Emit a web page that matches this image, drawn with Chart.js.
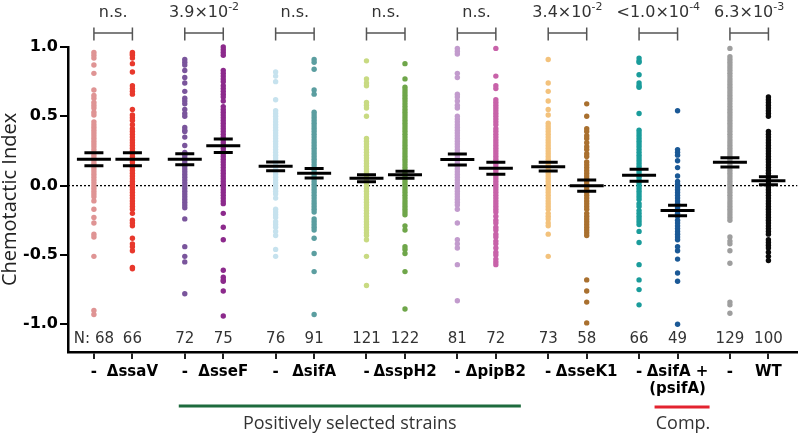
<!DOCTYPE html>
<html>
<head>
<meta charset="utf-8">
<script src="https://cdn.jsdelivr.net/npm/chart.js@4"></script>
<style>
  html, body { margin: 0; padding: 0; background: #fff; }
</style>
</head>
<body>
<canvas id="chartCanvas" width="800" height="434"></canvas>
<script>
// visible dots per group (overlapping dots left out)
const ctrlSsaV = [0.96, 0.94, 0.92, 0.87, 0.81, 0.69, 0.65, 0.63, 0.60, 0.58, 0.56, 0.53, 0.51, 0.46, 0.44, 0.42, 0.40, 0.38, 0.36, 0.34, 0.32, 0.30, 0.28, 0.26, 0.24, 0.22, 0.20, 0.18, 0.16, 0.14, 0.12, 0.10, 0.08, 0.06, 0.04, 0.02, 0.00, -0.02, -0.04, -0.06, -0.08, -0.11, -0.17, -0.23, -0.27, -0.35, -0.37, -0.51, -0.90, -0.93];
const dSsaV = [0.96, 0.95, 0.94, 0.92, 0.88, 0.82, 0.72, 0.70, 0.68, 0.66, 0.55, 0.51, 0.49, 0.47, 0.44, 0.41, 0.39, 0.37, 0.35, 0.33, 0.31, 0.29, 0.27, 0.25, 0.23, 0.21, 0.19, 0.17, 0.15, 0.13, 0.11, 0.09, 0.07, 0.05, 0.03, 0.01, -0.01, -0.03, -0.05, -0.07, -0.09, -0.11, -0.13, -0.15, -0.17, -0.20, -0.25, -0.27, -0.29, -0.38, -0.42, -0.44, -0.47, -0.59, -0.60];
const ctrlSseF = [0.91, 0.89, 0.87, 0.83, 0.78, 0.74, 0.68, 0.63, 0.61, 0.59, 0.55, 0.52, 0.50, 0.42, 0.40, 0.39, 0.35, 0.29, 0.24, 0.22, 0.20, 0.18, 0.16, 0.14, 0.12, 0.10, 0.08, 0.06, 0.04, 0.02, 0.00, -0.02, -0.04, -0.06, -0.08, -0.10, -0.12, -0.14, -0.16, -0.24, -0.44, -0.51, -0.55, -0.78];
const dSseF = [1.00, 0.98, 0.96, 0.94, 0.83, 0.81, 0.79, 0.77, 0.75, 0.72, 0.70, 0.68, 0.66, 0.64, 0.61, 0.57, 0.55, 0.53, 0.51, 0.49, 0.47, 0.45, 0.43, 0.41, 0.39, 0.37, 0.35, 0.33, 0.31, 0.29, 0.27, 0.25, 0.23, 0.21, 0.19, 0.17, 0.15, 0.13, 0.11, 0.09, 0.07, 0.05, 0.03, 0.01, -0.01, -0.03, -0.05, -0.07, -0.09, -0.11, -0.13, -0.20, -0.30, -0.39, -0.61, -0.66, -0.68, -0.69, -0.76, -0.94];
const ctrlSifA = [0.82, 0.79, 0.75, 0.62, 0.54, 0.52, 0.50, 0.48, 0.46, 0.44, 0.42, 0.40, 0.38, 0.36, 0.34, 0.32, 0.30, 0.28, 0.26, 0.24, 0.22, 0.20, 0.18, 0.16, 0.14, 0.12, 0.10, 0.08, 0.06, 0.04, 0.02, 0.00, -0.02, -0.04, -0.06, -0.09, -0.17, -0.19, -0.21, -0.23, -0.26, -0.28, -0.30, -0.33, -0.36, -0.46, -0.51];
const dSifA = [0.91, 0.89, 0.84, 0.69, 0.66, 0.53, 0.51, 0.49, 0.47, 0.45, 0.43, 0.41, 0.39, 0.37, 0.35, 0.33, 0.31, 0.29, 0.27, 0.25, 0.23, 0.21, 0.19, 0.17, 0.15, 0.13, 0.11, 0.09, 0.07, 0.05, 0.03, 0.01, -0.01, -0.03, -0.05, -0.07, -0.09, -0.11, -0.13, -0.15, -0.17, -0.19, -0.24, -0.26, -0.28, -0.30, -0.32, -0.38, -0.49, -0.62, -0.93];
const ctrlSspH2 = [0.90, 0.77, 0.74, 0.72, 0.60, 0.58, 0.56, 0.50, 0.34, 0.32, 0.30, 0.28, 0.26, 0.24, 0.22, 0.20, 0.18, 0.16, 0.14, 0.12, 0.10, 0.08, 0.06, 0.04, 0.02, 0.00, -0.02, -0.04, -0.06, -0.08, -0.10, -0.12, -0.14, -0.16, -0.18, -0.20, -0.22, -0.24, -0.26, -0.28, -0.30, -0.32, -0.34, -0.36, -0.39, -0.51, -0.72];
const dSspH2 = [0.88, 0.77, 0.71, 0.69, 0.67, 0.65, 0.63, 0.61, 0.59, 0.57, 0.55, 0.53, 0.51, 0.49, 0.47, 0.45, 0.43, 0.41, 0.39, 0.37, 0.35, 0.33, 0.31, 0.29, 0.27, 0.25, 0.23, 0.21, 0.19, 0.17, 0.15, 0.13, 0.11, 0.09, 0.07, 0.05, 0.03, 0.01, -0.01, -0.03, -0.05, -0.07, -0.09, -0.11, -0.13, -0.15, -0.17, -0.19, -0.21, -0.29, -0.32, -0.44, -0.46, -0.49, -0.62, -0.89];
const ctrlPipB2 = [0.99, 0.97, 0.95, 0.81, 0.78, 0.66, 0.64, 0.61, 0.58, 0.56, 0.50, 0.48, 0.46, 0.44, 0.42, 0.40, 0.38, 0.36, 0.34, 0.32, 0.30, 0.28, 0.26, 0.24, 0.22, 0.20, 0.18, 0.16, 0.14, 0.12, 0.10, 0.08, 0.06, 0.04, 0.02, 0.00, -0.02, -0.04, -0.06, -0.08, -0.10, -0.12, -0.14, -0.17, -0.27, -0.39, -0.42, -0.45, -0.57, -0.83];
const dPipB2 = [0.99, 0.79, 0.72, 0.70, 0.62, 0.60, 0.58, 0.56, 0.54, 0.52, 0.50, 0.48, 0.46, 0.44, 0.41, 0.39, 0.37, 0.35, 0.33, 0.31, 0.29, 0.27, 0.25, 0.23, 0.21, 0.19, 0.17, 0.15, 0.13, 0.11, 0.09, 0.07, 0.05, 0.03, 0.01, -0.01, -0.03, -0.05, -0.07, -0.09, -0.11, -0.13, -0.15, -0.17, -0.19, -0.22, -0.25, -0.27, -0.30, -0.32, -0.35, -0.37, -0.40, -0.42, -0.45, -0.48, -0.50, -0.53, -0.55, -0.57];
const ctrlSseK1 = [0.91, 0.74, 0.68, 0.61, 0.55, 0.51, 0.45, 0.43, 0.41, 0.39, 0.37, 0.35, 0.33, 0.31, 0.29, 0.27, 0.25, 0.23, 0.21, 0.19, 0.17, 0.15, 0.13, 0.11, 0.09, 0.07, 0.05, 0.03, 0.01, -0.01, -0.03, -0.05, -0.07, -0.09, -0.11, -0.13, -0.15, -0.17, -0.20, -0.22, -0.24, -0.27, -0.29, -0.35, -0.51];
const dSseK1 = [0.59, 0.50, 0.41, 0.39, 0.36, 0.34, 0.31, 0.28, 0.26, 0.23, 0.21, 0.17, 0.15, 0.13, 0.11, 0.09, 0.07, 0.05, 0.03, 0.01, -0.01, -0.03, -0.05, -0.07, -0.09, -0.11, -0.13, -0.15, -0.17, -0.20, -0.22, -0.24, -0.26, -0.28, -0.30, -0.32, -0.34, -0.36, -0.68, -0.76, -0.84, -0.99];
const ctrlComp = [0.92, 0.90, 0.89, 0.80, 0.74, 0.72, 0.71, 0.52, 0.40, 0.38, 0.36, 0.34, 0.32, 0.30, 0.28, 0.26, 0.24, 0.22, 0.20, 0.18, 0.16, 0.14, 0.12, 0.10, 0.08, 0.06, 0.04, 0.02, 0.00, -0.02, -0.04, -0.06, -0.08, -0.10, -0.13, -0.15, -0.18, -0.20, -0.22, -0.24, -0.26, -0.28, -0.33, -0.41, -0.57, -0.68, -0.75, -0.86];
const dSifAComp = [0.54, 0.26, 0.24, 0.22, 0.18, 0.13, 0.07, 0.03, 0.01, -0.01, -0.03, -0.05, -0.07, -0.09, -0.11, -0.13, -0.16, -0.18, -0.20, -0.22, -0.25, -0.27, -0.29, -0.31, -0.33, -0.35, -0.37, -0.39, -0.44, -0.47, -0.53, -0.63, -0.69, -1.00];
const ctrlWT = [0.99, 0.93, 0.91, 0.89, 0.87, 0.85, 0.83, 0.81, 0.79, 0.77, 0.75, 0.73, 0.71, 0.69, 0.67, 0.65, 0.63, 0.61, 0.59, 0.57, 0.55, 0.53, 0.51, 0.49, 0.47, 0.45, 0.43, 0.41, 0.39, 0.37, 0.35, 0.33, 0.31, 0.29, 0.27, 0.25, 0.23, 0.21, 0.19, 0.17, 0.15, 0.13, 0.11, 0.09, 0.07, 0.05, 0.03, 0.01, -0.01, -0.03, -0.05, -0.07, -0.09, -0.11, -0.13, -0.15, -0.17, -0.19, -0.21, -0.23, -0.25, -0.37, -0.40, -0.42, -0.47, -0.56, -0.84, -0.86, -0.92];
const wt = [0.64, 0.62, 0.60, 0.58, 0.56, 0.54, 0.52, 0.50, 0.39, 0.37, 0.35, 0.33, 0.31, 0.29, 0.27, 0.25, 0.23, 0.21, 0.19, 0.17, 0.15, 0.13, 0.11, 0.09, 0.07, 0.05, 0.03, 0.01, -0.01, -0.03, -0.05, -0.07, -0.09, -0.11, -0.13, -0.15, -0.17, -0.19, -0.21, -0.23, -0.25, -0.27, -0.29, -0.31, -0.33, -0.35, -0.39, -0.41, -0.43, -0.45, -0.48, -0.51, -0.54];

const groupValues = [ctrlSsaV, dSsaV, ctrlSseF, dSseF, ctrlSifA, dSifA, ctrlSspH2, dSspH2,
  ctrlPipB2, dPipB2, ctrlSseK1, dSseK1, ctrlComp, dSifAComp, ctrlWT, wt];
const tickLabels = ['-', '\u0394ssaV', '-', '\u0394sseF', '-', '\u0394sifA', '-', '\u0394sspH2',
  '-', '\u0394pipB2', '-', '\u0394sseK1', '-', ['\u0394sifA +', '(psifA)'], '-', 'WT'];
const nCounts = [68, 66, 72, 75, 76, 91, 121, 122, 81, 72, 73, 58, 66, 49, 129, 100];
const means = [0.19, 0.19, 0.19, 0.288, 0.139, 0.089, 0.053, 0.079, 0.188, 0.125, 0.137, 0.0, 0.075, -0.18, 0.168, 0.036];
const sems = [0.047, 0.047, 0.04, 0.049, 0.031, 0.034, 0.025, 0.025, 0.04, 0.043, 0.031, 0.041, 0.043, 0.038, 0.034, 0.029];
const pText = ['n.s.', '3.9\u00d710', 'n.s.', 'n.s.', 'n.s.', '3.4\u00d710', '<1.0\u00d710', '6.3\u00d710'];
const pExp = ['', '-2', '', '', '', '-2', '-4', '-3'];
const yTickValues = [-1.0, -0.5, 0.0, 0.5, 1.0];

const colors = ['#df9494', '#e8382c', '#7a559c', '#8c2a8c', '#c6e2ee', '#5b9ea0', '#c8da82', '#6fa64a',
  '#c29bcd', '#c862a9', '#f3c27c', '#a9702f', '#1a9c9b', '#1b5996', '#9e9e9e', '#0a0a0a'];

const PAIR_STEP = 2.36;
function groupPos(i) {
  return Math.floor(i / 2) * PAIR_STEP + (i % 2);
}

const FONT = 'DejaVu Sans';
const SANS = 'Open Sans';

const overlay = {
  id: 'overlay',
  beforeDatasetsDraw(chart) {
    const { ctx, chartArea, scales } = chart;
    const y0 = scales.y.getPixelForValue(0);
    ctx.save();
    ctx.strokeStyle = '#000';
    ctx.lineWidth = 1.3;
    ctx.setLineDash([2, 2]);
    ctx.beginPath();
    ctx.moveTo(chartArea.left, y0);
    ctx.lineTo(chartArea.right, y0);
    ctx.stroke();
    ctx.restore();
  },
  afterDatasetsDraw(chart) {
    const { ctx, scales } = chart;
    const xs = scales.x, ys = scales.y;
    ctx.save();
    ctx.strokeStyle = '#000';
    ctx.lineWidth = 3;
    // mean and SEM marks
    means.forEach((m, i) => {
      const px = xs.getPixelForValue(groupPos(i));
      const pm = ys.getPixelForValue(m);
      const pt = ys.getPixelForValue(m + sems[i]);
      const pb = ys.getPixelForValue(m - sems[i]);
      ctx.beginPath();
      ctx.moveTo(px - 17, pm); ctx.lineTo(px + 17, pm);
      ctx.moveTo(px - 9.5, pt); ctx.lineTo(px + 9.5, pt);
      ctx.moveTo(px - 9.5, pb); ctx.lineTo(px + 9.5, pb);
      ctx.stroke();
    });
    ctx.restore();
  },
  afterDraw(chart) {
    const { ctx, scales } = chart;
    const xs = scales.x;
    ctx.save();
    ctx.fillStyle = '#333';
    ctx.textBaseline = 'middle';

    // significance brackets and p values
    pText.forEach((t, p) => {
      const x1 = xs.getPixelForValue(groupPos(2 * p));
      const x2 = xs.getPixelForValue(groupPos(2 * p + 1));
      ctx.strokeStyle = '#555';
      ctx.lineWidth = 1.5;
      ctx.beginPath();
      ctx.moveTo(x1, 33); ctx.lineTo(x2, 33);
      ctx.moveTo(x1, 27.5); ctx.lineTo(x1, 40.5);
      ctx.moveTo(x2, 27.5); ctx.lineTo(x2, 40.5);
      ctx.stroke();

      const cx = (x1 + x2) / 2;
      ctx.font = '16px "' + FONT + '"';
      const wBase = ctx.measureText(t).width;
      ctx.font = '11px "' + FONT + '"';
      const wExp = pExp[p] ? ctx.measureText(pExp[p]).width : 0;
      const left = cx - (wBase + wExp) / 2;
      ctx.textAlign = 'left';
      ctx.font = '16px "' + FONT + '"';
      ctx.fillText(t, left, 13);
      if (pExp[p]) {
        ctx.font = '11px "' + FONT + '"';
        ctx.fillText(pExp[p], left + wBase, 7);
      }
    });

    // N counts
    ctx.font = '15px "' + FONT + '"';
    ctx.textAlign = 'center';
    nCounts.forEach((n, i) => {
      const px = xs.getPixelForValue(groupPos(i));
      ctx.fillText(i === 0 ? 'N: ' + n : String(n), px, 339);
    });

    // group bars below the axis
    const g1 = xs.getPixelForValue(groupPos(2)) - 6;
    const g2 = xs.getPixelForValue(groupPos(9)) + 25;
    const r1 = xs.getPixelForValue(groupPos(13)) - 23;
    const r2 = xs.getPixelForValue(groupPos(13)) + 32;
    ctx.lineWidth = 3;
    ctx.strokeStyle = '#1d6b3d';
    ctx.beginPath(); ctx.moveTo(g1, 406); ctx.lineTo(g2, 406); ctx.stroke();
    ctx.strokeStyle = '#e3232f';
    ctx.beginPath(); ctx.moveTo(r1, 407); ctx.lineTo(r2, 407); ctx.stroke();
    ctx.font = '18px "' + SANS + '"';
    ctx.fillStyle = '#333';
    ctx.fillText('Positively selected strains', (g1 + g2) / 2, 424);
    ctx.fillText('Comp.', (r1 + r2) / 2 + 1, 424);
    ctx.restore();
  }
};

function buildDatasets() {
  return groupValues.map((vals, i) => ({
    label: Array.isArray(tickLabels[i]) ? tickLabels[i].join(' ') : tickLabels[i],
    data: vals.map(v => ({ x: groupPos(i), y: v })),
    backgroundColor: colors[i],
    borderWidth: 0,
    pointRadius: 2.7,
    pointHoverRadius: 2.7,
    clip: false
  }));
}

const ctx = document.getElementById('chartCanvas').getContext('2d');
const myChart = new Chart(ctx, {
  type: 'scatter',
  data: { datasets: buildDatasets() },
  options: {
    responsive: false,
    animation: false,
    events: [],
    layout: { padding: { top: 47, right: 0, left: 0, bottom: 0 } },
    plugins: { legend: { display: false }, tooltip: { enabled: false } },
    scales: {
      x: {
        type: 'linear',
        min: -0.673,
        max: 18.27,
        afterBuildTicks: (scale) => { scale.ticks = groupValues.map((_, i) => ({ value: groupPos(i) })); },
        afterFit: (scale) => { scale.height = 82; },
        ticks: {
          autoSkip: false,
          maxRotation: 0,
          padding: 5,
          color: '#000',
          font: { family: FONT, size: 15, weight: 'bold', lineHeight: 1.1 },
          callback: (v, i) => tickLabels[i]
        },
        grid: { drawOnChartArea: false, tickLength: 7, color: '#222', lineWidth: 2 },
        border: { color: '#000', width: 2.5 }
      },
      y: {
        min: -1.2,
        max: 1.0,
        afterBuildTicks: (scale) => { scale.ticks = yTickValues.map(v => ({ value: v })); },
        afterFit: (scale) => { scale.width = 68; },
        ticks: {
          padding: 2,
          color: '#000',
          font: { family: FONT, size: 16, weight: 'bold' },
          callback: (v) => Number(v).toFixed(1)
        },
        grid: { drawOnChartArea: false, tickLength: 8, color: '#000', lineWidth: 2 },
        border: { color: '#000', width: 2.5 },
        title: {
          display: true,
          text: 'Chemotactic Index',
          color: '#222',
          font: { family: SANS, size: 20, lineHeight: 1.0 },
          padding: { top: 0, bottom: 0 }
        }
      }
    }
  },
  plugins: [overlay]
});
</script>
</body>
</html>
